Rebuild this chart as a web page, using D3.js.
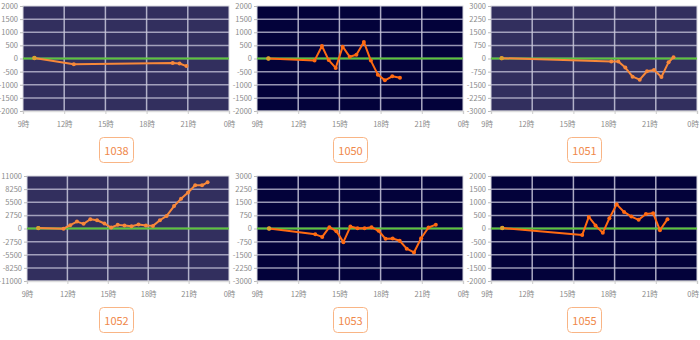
<!DOCTYPE html>
<html><head><meta charset="utf-8">
<script src="https://cdn.jsdelivr.net/npm/d3@7"></script>
<style>body{margin:0;background:#fff}svg{display:block}</style>
</head><body><svg id="c" width="700" height="340"></svg>
<script>
// ---- data ----
const codes = ["1038", "1050", "1051", "1052", "1053", "1055"];
const hourTicks = [9, 12, 15, 18, 21, 24];
const hourTickLabels = ["9時", "12時", "15時", "18時", "21時", "0時"];
const yMax = [2000, 2000, 3000, 11000, 3000, 2000];

const s1038 = [[9.83, 20], [12.7, -220], [19.9, -170], [20.4, -190], [20.9, -290]];
const s1050 = [[9.83, 0], [13.19, -80], [13.73, 475], [14.22, -60], [14.73, -360], [15.24, 450],
  [15.75, 65], [16.24, 140], [16.78, 630], [17.29, -80], [17.8, -615], [18.31, -830], [18.85, -680], [19.41, -730]];
const s1051 = [[9.78, 20], [17.76, -173], [18.27, -173], [18.78, -520], [19.31, -1040], [19.83, -1210],
  [20.36, -730], [20.87, -650], [21.41, -1060], [21.93, -210], [22.29, 75]];
const s1052 = [[9.84, 80], [11.71, -50], [12.21, 690], [12.71, 1450], [13.2, 970], [13.7, 1940], [14.2, 1730],
  [14.75, 1040], [15.25, 210], [15.74, 760], [16.24, 620], [16.76, 480], [17.28, 830], [17.83, 620],
  [18.35, 550], [18.87, 1730], [19.37, 2630], [19.92, 4700], [20.44, 6230], [20.96, 7540], [21.49, 9060],
  [22.0, 9060], [22.41, 9680]];
const s1053 = [[9.88, 0], [13.24, -333], [13.75, -480], [14.27, 75], [14.78, -150], [15.29, -780], [15.8, 110],
  [16.32, 20], [16.83, 10], [17.34, 75], [17.85, -130], [18.36, -590], [18.88, -575], [19.39, -700],
  [19.9, -1150], [20.43, -1370], [20.95, -555], [21.49, 55], [22.02, 220]];
const s1055 = [[9.82, 20], [15.64, -250], [16.12, 440], [16.61, 115], [17.14, -165], [17.62, 390], [18.15, 920],
  [18.69, 630], [19.22, 455], [19.75, 330], [20.28, 555], [20.81, 580], [21.3, -65], [21.85, 355]];
const seriesList = [s1038, s1050, s1051, s1052, s1053, s1055];

// ---- drawing ----
const svg = d3.select("#c");
const bgLight = "#322f5e", bgDark = "#03023a";
const panelBg = [bgLight, bgDark, bgLight, bgLight, bgDark, bgDark];
const lineCol = ["#f7883a", "#ff6a12", "#f7883a", "#f7883a", "#ff6a12", "#ff6a12"];
const fontFam = "'Noto Sans CJK SC', 'Noto Sans', sans-serif";

seriesList.forEach((data, i) => {
  const col = i % 3, row = Math.floor(i / 3);
  const cx = col * 234;
  const m = yMax[i];
  const yTicks = d3.range(-4, 5).map(k => k * m / 4);
  const maxChars = d3.max(yTicks, t => String(t).length);
  const left = cx + 23 + (maxChars - 5) * 4;
  const right = cx + 229;
  const top = 6 + row * 170, bottom = 111 + row * 170;

  const x = d3.scaleLinear().domain([9, 24]).range([left, right]);
  const y = d3.scaleLinear().domain([-m, m]).range([bottom, top]);
  const g = svg.append("g");

  g.append("rect").attr("x", left).attr("y", top).attr("width", right - left).attr("height", bottom - top)
    .attr("fill", panelBg[i]).attr("stroke", "#d8d8e0").attr("stroke-width", 1);

  // grid
  g.selectAll(".vg").data(hourTicks.slice(1, -1)).join("line")
    .attr("x1", d => x(d)).attr("x2", d => x(d)).attr("y1", top).attr("y2", bottom)
    .attr("stroke", "#c9c8dc").attr("stroke-width", 1.5).attr("opacity", 0.85);
  g.selectAll(".hg").data(yTicks.slice(1, -1)).join("line")
    .attr("x1", left).attr("x2", right).attr("y1", d => y(d)).attr("y2", d => y(d))
    .attr("stroke", "#c9c8dc").attr("stroke-width", 1.5).attr("opacity", 0.75);

  // y axis
  const ya = d3.axisLeft(y).tickValues(yTicks).tickSize(3).tickPadding(2).tickFormat(d => String(d));
  const yg = g.append("g").attr("transform", `translate(${left},0)`).call(ya);
  yg.select(".domain").remove();
  yg.selectAll("line").attr("stroke", "#bbb");
  yg.selectAll("text").attr("fill", "#8a8a8a").style("font-size", "7.5px").style("font-family", fontFam);

  // x axis
  const xa = d3.axisBottom(x).tickValues(hourTicks).tickSize(3).tickPadding(8)
    .tickFormat((d, k) => hourTickLabels[k]);
  const xg = g.append("g").attr("transform", `translate(0,${bottom})`).call(xa);
  xg.select(".domain").attr("stroke", "#ddd").attr("stroke-width", 1.5);
  xg.selectAll("line").attr("stroke", "#ccc");
  xg.selectAll("text").attr("fill", "#8a8a8a").style("font-size", "7.5px").style("font-family", fontFam);
  // keep the last label inside the canvas
  xg.selectAll("text").each(function () {
    const bb = this.getBBox();
    const abs = right + bb.x + bb.width;
    if (abs > 699) d3.select(this).attr("dx", (699 - abs) + "px");
  });

  // zero line
  g.append("line").attr("x1", left).attr("x2", right).attr("y1", y(0)).attr("y2", y(0))
    .attr("stroke", "#5cc43c").attr("stroke-width", 2);

  // series
  const line = d3.line().x(d => x(d[0])).y(d => y(d[1]));
  g.append("path").datum(data).attr("d", line).attr("fill", "none")
    .attr("stroke", lineCol[i]).attr("stroke-width", 2).attr("stroke-linejoin", "round");
  g.selectAll(".pt").data(data).join("circle")
    .attr("cx", d => x(d[0])).attr("cy", d => y(d[1])).attr("r", 2)
    .attr("fill", lineCol[i]);
  g.append("circle").attr("cx", x(data[0][0])).attr("cy", y(data[0][1])).attr("r", 2.2).attr("fill", "#d8a030");

  // label box
  const bx = cx + 116.5, by = 150 + row * 170;
  g.append("rect").attr("x", bx - 17).attr("y", by - 12.5).attr("width", 34).attr("height", 25)
    .attr("rx", 4).attr("fill", "#fff").attr("stroke", "#f9b585").attr("stroke-width", 1);
  g.append("text").attr("x", bx).attr("y", by).attr("text-anchor", "middle").attr("dominant-baseline", "central")
    .attr("fill", "#f0884a").style("font-size", "11px").style("font-family", fontFam).text(codes[i]);
});
</script></body></html>
